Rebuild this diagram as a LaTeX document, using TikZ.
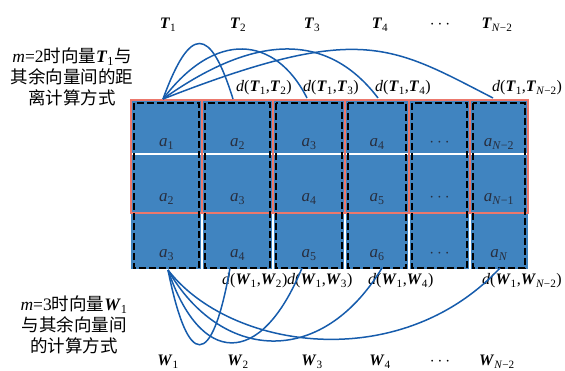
\documentclass[tikz,border=0pt]{standalone}
\usepackage{fontspec}
\setmainfont{Liberation Serif}
\newfontfamily\cjk{Noto Sans CJK SC}
\definecolor{cellblue}{RGB}{64,132,192}
\definecolor{salmonred}{RGB}{236,120,108}
\definecolor{curveblue}{RGB}{22,92,172}
\definecolor{labgray}{RGB}{40,46,62}
\newcommand\bT{\textbf{\textit{T}}}
\newcommand\bW{\textbf{\textit{W}}}
\newcommand\sbs[1]{\textsubscript{#1}}
\newcommand\zh[1]{{\cjk #1}}
\begin{document}
\begin{tikzpicture}[x=1pt,y=-1pt,
  lab/.style={font=\fontsize{16}{18}\selectfont, inner sep=0pt, anchor=base},
  dlab/.style={font=\fontsize{16}{18}\selectfont, inner sep=0pt, anchor=base west},
  alab/.style={font=\fontsize{17}{19}\selectfont, inner sep=0pt, anchor=base, text=labgray},
  zhtext/.style={font=\fontsize{17.5}{20.7}\selectfont, align=center, inner sep=0pt},
  curve/.style={curveblue, line width=1.5pt},
  winA/.style={salmonred, line width=2pt},
  winB/.style={black, line width=2pt, dash pattern=on 7pt off 3pt}]
\useasboundingbox (0,0) rectangle (565,371);
% cells
\fill[cellblue] (131,100) rectangle (528,269);
\foreach \x in {202,273,345,409,470} \draw[white,line width=1.5pt] (\x,100) -- (\x,269);
\foreach \y in {154,213} \draw[white,line width=1.5pt] (131,\y) -- (528,\y);
% m=2 windows
\foreach \a/\b in {131/202,202/273,273/345,345/409,409/470,470/528}
  \draw[winA] (\a,100) rectangle (\b,213);
% m=3 windows
\foreach \a/\b in {131/202,202/273,273/345,345/409,409/470,470/528}
  \draw[winB] (\a+3,103) rectangle (\b-3,268);
% cell labels
\node[alab] (a11) at (166.5,147) {\textit{a}\sbs{1}};
\node[alab] (a12) at (237.5,147) {\textit{a}\sbs{2}};
\node[alab] (a13) at (309,147) {\textit{a}\sbs{3}};
\node[alab] (a14) at (377,147) {\textit{a}\sbs{4}};
\node[alab] (a15) at (439.5,147) {$\cdots$};
\node[alab] (a16) at (499,147) {\textit{a}\sbs{\textit{N}−2}};
\node[alab] (a21) at (166.5,202) {\textit{a}\sbs{2}};
\node[alab] (a22) at (237.5,202) {\textit{a}\sbs{3}};
\node[alab] (a23) at (309,202) {\textit{a}\sbs{4}};
\node[alab] (a24) at (377,202) {\textit{a}\sbs{5}};
\node[alab] (a25) at (439.5,202) {$\cdots$};
\node[alab] (a26) at (499,202) {\textit{a}\sbs{\textit{N}−1}};
\node[alab] (a31) at (166.5,258) {\textit{a}\sbs{3}};
\node[alab] (a32) at (237.5,258) {\textit{a}\sbs{4}};
\node[alab] (a33) at (309,258) {\textit{a}\sbs{5}};
\node[alab] (a34) at (377,258) {\textit{a}\sbs{6}};
\node[alab] (a35) at (439.5,258) {$\cdots$};
\node[alab] (a36) at (499,258) {\textit{a}\sbs{\textit{N}}};
% T labels
\node[lab] (T1) at (168,29) {\bT\sbs{1}};
\node[lab] (T2) at (238,29) {\bT\sbs{2}};
\node[lab] (T3) at (312,29) {\bT\sbs{3}};
\node[lab] (T4) at (380,29) {\bT\sbs{4}};
\node[lab] (Td) at (440,29) {$\cdots$};
\node[lab] (TN) at (497,29) {\bT\sbs{\textit{N}−2}};
% W labels
\node[lab] (W1) at (168,366) {\bW\sbs{1}};
\node[lab] (W2) at (238,366) {\bW\sbs{2}};
\node[lab] (W3) at (312,366) {\bW\sbs{3}};
\node[lab] (W4) at (380,366) {\bW\sbs{4}};
\node[lab] (Wd) at (440,366) {$\cdots$};
\node[lab] (WN) at (497,366) {\bW\sbs{\textit{N}−2}};
% distance labels
\node[dlab] (dT2) at (236,92) {\textit{d}(\bT\sbs{1},\bT\sbs{2})};
\node[dlab] (dT3) at (303,92) {\textit{d}(\bT\sbs{1},\bT\sbs{3})};
\node[dlab] (dT4) at (375,92) {\textit{d}(\bT\sbs{1},\bT\sbs{4})};
\node[dlab] (dTN) at (492,92) {\textit{d}(\bT\sbs{1},\bT\sbs{\textit{N}−2})};
\node[dlab] (dW2) at (222,285) {\textit{d}(\bW\sbs{1},\bW\sbs{2})};
\node[dlab] (dW3) at (287,285) {\textit{d}(\bW\sbs{1},\bW\sbs{3})};
\node[dlab] (dW4) at (368,285) {\textit{d}(\bW\sbs{1},\bW\sbs{4})};
\node[dlab] (dWN) at (482,285) {\textit{d}(\bW\sbs{1},\bW\sbs{\textit{N}−2})};
% side texts
\node[zhtext] (txtA) at (72,77) {\textit{m}=2\zh{时向量}\bT\sbs{1}\zh{与}\\ \zh{其余向量间的距}\\ \zh{离计算方式}};
\node[zhtext] (txtB) at (74,325) {\textit{m}=3\zh{时向量}\bW\sbs{1}\\ \zh{与其余向量间}\\ \zh{的计算方式}};
% curve endpoints
\coordinate (ts) at (163,99);
\coordinate (te1) at (233,99);
\coordinate (te2) at (307,98);
\coordinate (te3) at (378,98);
\coordinate (te4) at (493,98);
\coordinate (ws) at (168,270);
\coordinate (we1) at (230,268);
\coordinate (we2) at (302,268);
\coordinate (we3) at (382,268);
\coordinate (we4) at (500,268);
% top curves
\draw[curve] (ts) .. controls (190,25) and (210,25) .. (te1);
\draw[curve] (ts) .. controls (215,30) and (275,35) .. (te2);
\draw[curve] (ts) .. controls (260,30) and (330,35) .. (te3);
\draw[curve] (ts) .. controls (360,22) and (390,45) .. (te4);
% bottom curves
\draw[curve] (ws) .. controls (188,370) and (212,370) .. (we1);
\draw[curve] (ws) .. controls (200,365) and (260,370) .. (we2);
\draw[curve] (ws) .. controls (220,360) and (320,370) .. (we3);
\draw[curve] (ws) .. controls (230,350) and (400,375) .. (we4);
\end{tikzpicture}
\end{document}
